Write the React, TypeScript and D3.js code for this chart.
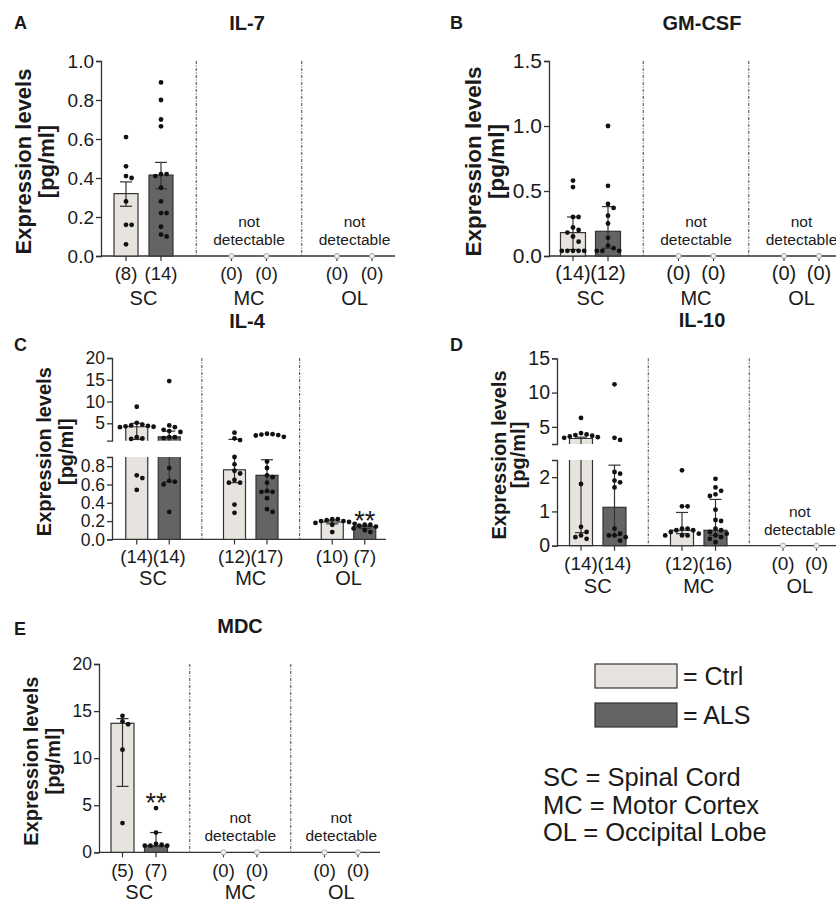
import React, { useEffect, useRef } from 'react';
import * as d3 from 'd3';

const regions = ['SC', 'MC', 'OL'];
// bar order in every panel: SC Ctrl, SC ALS, MC Ctrl, MC ALS, OL Ctrl, OL ALS
const groups = ['Ctrl', 'ALS'];

// A: IL-7
const il7Mean = [0.32, 0.415, 0, 0, 0, 0];
const il7ErrLow = [0.255, 0.345, 0, 0, 0, 0];
const il7ErrHigh = [0.38, 0.48, 0, 0, 0, 0];
const il7N = [8, 14, 0, 0, 0, 0];
const il7Points = [
  [0.61, 0.46, 0.41, 0.40, 0.28, 0.16, 0.16, 0.06],
  [0.89, 0.80, 0.70, 0.665, 0.42, 0.42, 0.41, 0.35, 0.28, 0.22, 0.22, 0.15, 0.11, 0.10],
  [], [], [], [],
];
const il7Sig = ['', '', '', '', '', ''];

// B: GM-CSF
const gmcsfMean = [0.18, 0.19, 0, 0, 0, 0];
const gmcsfErrLow = [0.05, 0.06, 0, 0, 0, 0];
const gmcsfErrHigh = [0.30, 0.38, 0, 0, 0, 0];
const gmcsfN = [14, 12, 0, 0, 0, 0];
const gmcsfPoints = [
  [0.58, 0.53, 0.30, 0.30, 0.22, 0.20, 0.18, 0.15, 0.11, 0.04, 0.04, 0.04, 0.04, 0.04],
  [1.0, 0.54, 0.40, 0.37, 0.31, 0.25, 0.14, 0.08, 0.06, 0.04, 0.04, 0.04],
  [], [], [], [],
];
const gmcsfSig = ['', '', '', '', '', ''];

// C: IL-4
const il4Mean = [4.2, 1.9, 0.76, 0.70, 0.19, 0.14];
const il4ErrLow = [1.3, 0.63, 0.62, 0.52, 0.17, 0.12];
const il4ErrHigh = [5.0, 3.2, 1.3, 0.87, 0.21, 0.155];
const il4N = [14, 14, 12, 17, 10, 7];
const il4Points = [
  [8.8, 5.1, 4.7, 4.5, 4.4, 4.3, 4.2, 4.1, 1.8, 1.5, 1.4, 0.70, 0.67, 0.54],
  [14.7, 4.5, 4.1, 3.5, 3.2, 3.0, 1.8, 1.8, 1.6, 0.78, 0.64, 0.63, 0.60, 0.30],
  [2.85, 1.55, 1.15, 0.90, 0.82, 0.75, 0.72, 0.65, 0.62, 0.62, 0.38, 0.29],
  [2.6, 2.5, 2.4, 2.3, 2.2, 1.9, 0.85, 0.78, 0.70, 0.68, 0.62, 0.53, 0.52, 0.52, 0.45, 0.33, 0.30],
  [0.22, 0.22, 0.21, 0.20, 0.20, 0.19, 0.18, 0.17, 0.16, 0.08],
  [0.16, 0.16, 0.15, 0.14, 0.12, 0.10, 0.08],
];
const il4Sig = ['', '', '', '', '', '**'];

// D: IL-10
const il10Mean = [3.3, 1.12, 0.45, 0.45, 0, 0];
const il10ErrLow = [0.38, 0.3, 0.35, 0.3, 0, 0];
const il10ErrHigh = [3.5, 2.35, 0.97, 1.35, 0, 0];
const il10N = [14, 14, 12, 16, 0, 0];
const il10Points = [
  [6.3, 4.1, 3.9, 3.8, 3.7, 3.6, 3.5, 3.4, 1.8, 0.55, 0.4, 0.3, 0.25, 0.2],
  [11.2, 3.4, 3.1, 2.15, 2.1, 1.9, 1.85, 1.7, 0.5, 0.35, 0.3, 0.3, 0.25, 0.15],
  [2.2, 1.15, 1.15, 0.5, 0.5, 0.45, 0.45, 0.4, 0.35, 0.3, 0.3, 0.3],
  [1.95, 1.7, 1.6, 1.5, 1.45, 1.05, 0.75, 0.72, 0.5, 0.45, 0.4, 0.35, 0.3, 0.25, 0.2, 0.1],
  [], [],
];
const il10Sig = ['', '', '', '', '', ''];

// E: MDC
const mdcMean = [13.7, 0.7, 0, 0, 0, 0];
const mdcErrLow = [7.0, 0.6, 0, 0, 0, 0];
const mdcErrHigh = [14.2, 2.1, 0, 0, 0, 0];
const mdcN = [5, 7, 0, 0, 0, 0];
const mdcPoints = [
  [14.5, 13.9, 13.6, 10.9, 3.1],
  [4.7, 2.1, 0.9, 0.8, 0.7, 0.7, 0.7],
  [], [], [], [],
];
const mdcSig = ['', '**', '', '', '', ''];

const legendItems = ['= Ctrl', '= ALS'];
const legendRegions = ['SC = Spinal Cord', 'MC = Motor Cortex', 'OL = Occipital Lobe'];

const FONT = "'Liberation Sans', Arial, Helvetica, sans-serif";
const fills = ['#e7e3de', '#646464'];
const ink = '#1a1a1a';

const panels = [
  {
    letter: 'A', letterPos: [14, 29], title: 'IL-7', titlePos: [247, 30],
    axisX: 101, axisEnd: 395, groupStart: 143.5, groupStep: 105.5, sep: 35, barW: 24,
    segments: [{ domain: [0, 1], range: [256, 61], ticks: [0, 0.2, 0.4, 0.6, 0.8, 1.0], fmt: '.1f' }],
    labelX: [31, 54], countY: 280, catY: 305, sigY: 0, fs: { tick: 19, count: 18.5, ylab: 22 },
    mean: il7Mean, errLow: il7ErrLow, errHigh: il7ErrHigh, n: il7N, points: il7Points, sig: il7Sig,
  },
  {
    letter: 'B', letterPos: [450, 29], title: 'GM-CSF', titlePos: [702, 30],
    axisX: 549, axisEnd: 840, groupStart: 590.5, groupStep: 105.5, sep: 35, barW: 25,
    segments: [{ domain: [0, 1.5], range: [256, 61], ticks: [0, 0.5, 1.0, 1.5], fmt: '.1f' }],
    labelX: [481, 504], countY: 280, catY: 305, sigY: 0, fs: { tick: 21, count: 20, ylab: 22.5 },
    mean: gmcsfMean, errLow: gmcsfErrLow, errHigh: gmcsfErrHigh, n: gmcsfN, points: gmcsfPoints, sig: gmcsfSig,
  },
  {
    letter: 'C', letterPos: [14, 351], title: 'IL-4', titlePos: [247, 328],
    axisX: 112, axisEnd: 386, groupStart: 153, groupStep: 97.75, sep: 32.5, barW: 22,
    segments: [
      { domain: [0, 0.9], range: [539.4, 457], ticks: [0, 0.2, 0.4, 0.6, 0.8], fmt: '.1f' },
      { domain: [1, 20], range: [440.7, 358], ticks: [5, 10, 15, 20], fmt: 'd' },
    ],
    labelX: [51, 73], countY: 563, catY: 585, sigY: 530, fs: { tick: 17.5, count: 18.5, ylab: 20 },
    mean: il4Mean, errLow: il4ErrLow, errHigh: il4ErrHigh, n: il4N, points: il4Points, sig: il4Sig,
  },
  {
    letter: 'D', letterPos: [450, 351], title: 'IL-10', titlePos: [702, 327],
    axisX: 557, axisEnd: 840, groupStart: 597.75, groupStep: 101, sep: 33.5, barW: 23,
    segments: [
      { domain: [0, 2.5], range: [545.7, 460], ticks: [0, 1, 2], fmt: 'd' },
      { domain: [2.5, 15], range: [444, 358.3], ticks: [5, 10, 15], fmt: 'd' },
    ],
    labelX: [506, 525], countY: 570, catY: 593, sigY: 0, fs: { tick: 19.5, count: 19, ylab: 20 },
    mean: il10Mean, errLow: il10ErrLow, errHigh: il10ErrHigh, n: il10N, points: il10Points, sig: il10Sig,
  },
  {
    letter: 'E', letterPos: [14, 635], title: 'MDC', titlePos: [240, 633],
    axisX: 99, axisEnd: 380, groupStart: 139.25, groupStep: 101, sep: 33.5, barW: 23,
    segments: [{ domain: [0, 20], range: [852.3, 664], ticks: [0, 5, 10, 15, 20], fmt: 'd' }],
    labelX: [38, 60], countY: 877, catY: 899, sigY: 812, fs: { tick: 17.5, count: 18.5, ylab: 20 },
    mean: mdcMean, errLow: mdcErrLow, errHigh: mdcErrHigh, n: mdcN, points: mdcPoints, sig: mdcSig,
  },
];

const drawPanel = (svg, p) => {
  const g = svg.append('g');
  const segs = p.segments.map(s => ({ ...s, scale: d3.scaleLinear().domain(s.domain).range(s.range) }));
  const broken = segs.length > 1;
  const lower = segs[0];
  const upper = segs[segs.length - 1];
  const yZero = lower.scale(0);
  const yTop = upper.range[1];
  const segOf = v => (broken && v > lower.domain[1] ? upper : lower);
  const yPos = v => {
    const s = segOf(v);
    return s.scale(Math.max(v, s.domain[0]));
  };
  const xGroup = d3.scaleLinear().domain([0, 2]).range([p.groupStart, p.groupStart + 2 * p.groupStep]);
  const xBar = i => xGroup(Math.floor(i / 2)) + (i % 2 === 0 ? -p.sep / 2 : p.sep / 2);

  // separators between regions
  [0.5, 1.5].forEach(k => {
    g.append('line')
      .attr('x1', xGroup(k)).attr('x2', xGroup(k))
      .attr('y1', yTop).attr('y2', yZero)
      .attr('stroke', '#444').attr('stroke-width', 1)
      .attr('stroke-dasharray', '3,1.5,1,1.5');
  });

  // y axis segments
  segs.forEach(s => {
    const ax = g.append('g')
      .attr('transform', `translate(${p.axisX},0)`)
      .call(d3.axisLeft(s.scale).tickValues(s.ticks).tickSize(5).tickSizeOuter(5).tickFormat(d3.format(s.fmt)));
    ax.select('.domain').attr('stroke', '#333').attr('stroke-width', 1.3);
    ax.selectAll('.tick line').attr('stroke', '#333').attr('stroke-width', 1.3);
    ax.selectAll('.tick text')
      .attr('font-family', FONT).attr('font-size', p.fs.tick).attr('fill', ink).attr('x', -7);
  });

  // x axis line
  g.append('line')
    .attr('x1', p.axisX).attr('x2', p.axisEnd)
    .attr('y1', yZero).attr('y2', yZero)
    .attr('stroke', '#333').attr('stroke-width', 1.3);

  const barIdx = d3.range(6);
  barIdx.forEach(i => {
    const cx = xBar(i);
    g.append('line')
      .attr('x1', cx).attr('x2', cx).attr('y1', yZero).attr('y2', yZero + 5)
      .attr('stroke', '#333').attr('stroke-width', 1.2);
  });

  // bars
  barIdx.forEach(i => {
    if (p.n[i] === 0) return;
    const cx = xBar(i);
    const x0 = cx - p.barW / 2;
    const x1 = cx + p.barW / 2;
    const fill = fills[i % 2];
    const m = p.mean[i];
    if (!broken || m <= lower.domain[1]) {
      g.append('rect')
        .attr('x', x0).attr('y', yPos(m)).attr('width', p.barW).attr('height', yZero - yPos(m))
        .attr('fill', fill).attr('stroke', '#333').attr('stroke-width', 1.2);
    } else {
      const lt = lower.scale(lower.domain[1]);
      const ub = upper.scale(upper.domain[0]);
      const ym = upper.scale(m);
      g.append('rect').attr('x', x0).attr('y', lt).attr('width', p.barW).attr('height', yZero - lt).attr('fill', fill);
      g.append('path').attr('d', `M${x0},${lt}L${x0},${yZero}L${x1},${yZero}L${x1},${lt}`)
        .attr('fill', 'none').attr('stroke', '#333').attr('stroke-width', 1.2);
      g.append('rect').attr('x', x0).attr('y', ym).attr('width', p.barW).attr('height', ub - ym).attr('fill', fill);
      g.append('path').attr('d', `M${x0},${ub}L${x0},${ym}L${x1},${ym}L${x1},${ub}`)
        .attr('fill', 'none').attr('stroke', '#333').attr('stroke-width', 1.2);
    }
  });

  // error bars
  barIdx.forEach(i => {
    if (p.n[i] === 0) return;
    const cx = xBar(i);
    const lo = p.errLow[i];
    const hi = p.errHigh[i];
    const pieces = [];
    if (broken && lo <= lower.domain[1] && hi > lower.domain[1]) {
      pieces.push({ a: yPos(lo), b: lower.scale(lower.domain[1]), capA: true, capB: false });
      pieces.push({ a: upper.scale(upper.domain[0]), b: yPos(hi), capA: false, capB: true });
    } else {
      pieces.push({ a: yPos(lo), b: yPos(hi), capA: true, capB: true });
    }
    pieces.forEach(pc => {
      g.append('line').attr('x1', cx).attr('x2', cx).attr('y1', pc.a).attr('y2', pc.b)
        .attr('stroke', '#333').attr('stroke-width', 1.2);
      [[pc.a, pc.capA], [pc.b, pc.capB]].forEach(([y, c]) => {
        if (!c) return;
        g.append('line').attr('x1', cx - 6).attr('x2', cx + 6).attr('y1', y).attr('y2', y)
          .attr('stroke', '#333').attr('stroke-width', 1.2);
      });
    });
  });

  // data points, dodged so they do not overlap
  const r = 2.4;
  barIdx.forEach(i => {
    const cx = xBar(i);
    if (p.n[i] === 0) {
      g.append('circle').attr('cx', cx).attr('cy', yZero).attr('r', 2.6)
        .attr('fill', '#eee').attr('stroke', '#999').attr('stroke-width', 0.8);
      return;
    }
    const placed = [];
    const vals = [...p.points[i]].sort((a, b) => b - a);
    vals.forEach(v => {
      const y = yPos(v);
      const step = 2 * r + 0.8;
      let x = cx;
      for (let k = 0; k < 20; k++) {
        const off = k === 0 ? 0 : Math.ceil(k / 2) * step * (k % 2 === 1 ? 1 : -1);
        const cand = cx + off;
        if (placed.every(q => Math.hypot(q[0] - cand, q[1] - y) >= 2 * r + 0.6)) {
          x = cand;
          break;
        }
      }
      placed.push([x, y]);
    });
    g.selectAll(null).data(placed).enter().append('circle')
      .attr('cx', d => d[0]).attr('cy', d => d[1]).attr('r', r).attr('fill', '#111');
  });

  // significance
  barIdx.forEach(i => {
    if (!p.sig[i]) return;
    g.append('text').attr('x', xBar(i)).attr('y', p.sigY)
      .attr('text-anchor', 'middle').attr('font-family', FONT).attr('font-size', 27)
      .attr('fill', ink).text(p.sig[i]);
  });

  // n labels and categories
  barIdx.forEach(i => {
    g.append('text').attr('x', xBar(i)).attr('y', p.countY)
      .attr('text-anchor', 'middle').attr('font-family', FONT).attr('font-size', p.fs.count)
      .attr('fill', ink).text(`(${p.n[i]})`);
  });
  regions.forEach((reg, k) => {
    g.append('text').attr('x', xGroup(k)).attr('y', p.catY)
      .attr('text-anchor', 'middle').attr('font-family', FONT).attr('font-size', 20)
      .attr('fill', ink).text(reg);
    if (p.n[2 * k] === 0 && p.n[2 * k + 1] === 0) {
      ['not', 'detectable'].forEach((t, j) => {
        g.append('text').attr('x', xGroup(k)).attr('y', yZero - 29 + j * 18)
          .attr('text-anchor', 'middle').attr('font-family', FONT).attr('font-size', 15.5)
          .attr('fill', ink).text(t);
      });
    }
  });

  // y label
  const yMid = (yTop + yZero) / 2 + 3;
  ['Expression levels', '[pg/ml]'].forEach((t, j) => {
    g.append('text')
      .attr('transform', `translate(${p.labelX[j]},${yMid}) rotate(-90)`)
      .attr('text-anchor', 'middle').attr('font-family', FONT).attr('font-size', p.fs.ylab)
      .attr('font-weight', 'bold').attr('fill', ink).text(t);
  });

  g.append('text').attr('x', p.titlePos[0]).attr('y', p.titlePos[1])
    .attr('text-anchor', 'middle').attr('font-family', FONT).attr('font-size', 20)
    .attr('font-weight', 'bold').attr('fill', ink).text(p.title);
  g.append('text').attr('x', p.letterPos[0]).attr('y', p.letterPos[1])
    .attr('font-family', FONT).attr('font-size', 18)
    .attr('font-weight', 'bold').attr('fill', ink).text(p.letter);
};

const drawLegend = svg => {
  const g = svg.append('g');
  groups.forEach((grp, k) => {
    const y = 664 + k * 39;
    g.append('rect').attr('x', 595).attr('y', y).attr('width', 82).attr('height', 24)
      .attr('fill', fills[k]).attr('stroke', '#333').attr('stroke-width', 1.2);
    g.append('text').attr('x', 683).attr('y', y + 21)
      .attr('font-family', FONT).attr('font-size', 25).attr('fill', ink).text(legendItems[k]);
  });
  legendRegions.forEach((t, k) => {
    g.append('text').attr('x', 543).attr('y', 786 + k * 27.5)
      .attr('font-family', FONT).attr('font-size', 25.5).attr('fill', ink).text(t);
  });
};

const App = () => {
  const svgRef = useRef(null);

  useEffect(() => {
    const svg = d3.select(svgRef.current);
    svg.selectAll('*').remove();
    panels.forEach(p => drawPanel(svg, p));
    drawLegend(svg);
  }, []);

  return (
    <div style={{ position: 'absolute', left: 0, top: 0, width: 836, height: 904, background: '#fff' }}>
      <svg ref={svgRef} width={836} height={904} style={{ display: 'block' }} />
    </div>
  );
};

export default App;
